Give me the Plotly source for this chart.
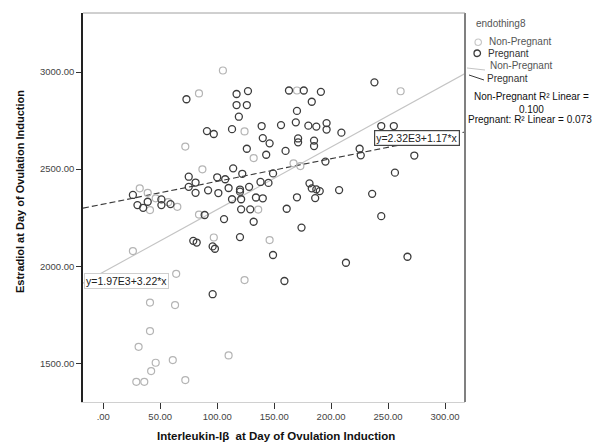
import numpy as np
import plotly.graph_objects as go

# ---------------- data ----------------
preg_x = [73, 117, 127, 117, 126, 119, 163, 176, 170, 183, 91, 97, 113, 139, 156, 169, 180,
          140, 146, 171, 171, 126, 143, 160, 114, 75, 81, 100, 107, 122, 75, 81, 92, 101, 110,
          120, 128, 120, 113, 121, 134, 140, 138, 145, 149, 121, 129, 161, 170, 174, 89, 106,
          132, 79, 82, 96, 98, 120, 149, 159, 96, 26, 30, 35, 39, 51, 51, 59, 191, 238, 187,
          196, 196, 209, 185, 185, 225, 226, 273, 195, 256, 244, 255, 181, 183, 187, 190, 186,
          207, 236, 244, 213, 267]
preg_y = [2860, 2887, 2902, 2830, 2830, 2770, 2905, 2905, 2800, 2847, 2696, 2681, 2706, 2722,
          2727, 2741, 2724, 2660, 2633, 2658, 2638, 2605, 2574, 2594, 2504, 2461, 2431, 2458,
          2448, 2476, 2409, 2378, 2391, 2377, 2403, 2395, 2409, 2384, 2345, 2345, 2354, 2350,
          2434, 2429, 2478, 2293, 2293, 2296, 2355, 2199, 2264, 2243, 2229, 2131, 2122, 2102,
          2090, 2150, 2058, 1924, 1856, 2367, 2315, 2301, 2332, 2344, 2315, 2320, 2898, 2947,
          2719, 2737, 2704, 2688, 2647, 2619, 2605, 2571, 2570, 2539, 2482, 2722, 2722, 2427,
          2401, 2396, 2387, 2351, 2392, 2373, 2258, 2018, 2049]

nonp_x = [105, 84, 72, 170, 124, 132, 87, 167, 173, 261, 136, 84, 97, 146, 26, 124, 64, 41,
          63, 41, 31, 110, 61, 46, 42, 29, 36, 72, 32, 39, 65, 41, 46, 57]
nonp_y = [3008, 2890, 2616, 2905, 2694, 2557, 2499, 2530, 2516, 2901, 2292, 2266, 2148, 2135,
          2078, 1929, 1961, 1813, 1800, 1666, 1585, 1541, 1517, 1503, 1460, 1405, 1405, 1414,
          2401, 2378, 2306, 2289, 2350, 2330]

fit_nonp = (1970.0, 3.22)   # intercept, slope
fit_preg = (2320.0, 1.17)

x_range = [-17.8, 317.5]
y_range = [1301, 3304]
x_ticks = [0, 50, 100, 150, 200, 250, 300]
x_ticklabels = [".00", "50.00", "100.00", "150.00", "200.00", "250.00", "300.00"]
y_ticks = [1500, 2000, 2500, 3000]
y_ticklabels = ["1500.00", "2000.00", "2500.00", "3000.00"]

eq_nonp = "y=1.97E3+3.22*x"
eq_preg = "y=2.32E3+1.17*x"
r2_nonp = "Non-Pregnant R² Linear =<br>0.100"
r2_preg = "Pregnant: R² Linear = 0.073"
legend_title = "endothing8"
group_names = ["Non-Pregnant", "Pregnant"]

# ---------------- layout helpers ----------------
W, H = 598, 443
L, R, T, B = 83, 465, 13, 402


def px(p):
    return (p - L) / (R - L)


def py(p):
    return (B - p) / (B - T)


LIGHT = "#b4b4b4"
DARK = "#3c3c3c"
FONT = "Liberation Sans, Arial, sans-serif"

fig = go.Figure()

xx = np.array(x_range)
fig.add_trace(go.Scatter(x=xx, y=fit_nonp[0] + fit_nonp[1] * xx, mode="lines",
                         line=dict(color="#c4c4c4", width=1.1), hoverinfo="skip"))
fig.add_trace(go.Scatter(x=xx, y=fit_preg[0] + fit_preg[1] * xx, mode="lines",
                         line=dict(color="#3a3a3a", width=1.1, dash="6px,3px"), hoverinfo="skip"))

fig.add_trace(go.Scatter(x=nonp_x, y=nonp_y, mode="markers",
                         marker=dict(symbol="circle-open", size=7, color=LIGHT,
                                     line=dict(width=1.2, color=LIGHT))))
fig.add_trace(go.Scatter(x=preg_x, y=preg_y, mode="markers",
                         marker=dict(symbol="circle-open", size=7, color=DARK,
                                     line=dict(width=1.3, color=DARK))))

fig.update_layout(
    width=W, height=H, showlegend=False,
    margin=dict(l=L, r=W - R, t=T, b=H - B),
    paper_bgcolor="white", plot_bgcolor="white",
    font=dict(family=FONT, color="#222"),
    xaxis=dict(range=x_range, tickvals=x_ticks, ticktext=x_ticklabels,
               showgrid=False, zeroline=False, showline=True, linecolor="#d0d0d0",
               linewidth=1, ticks="outside", ticklen=6, tickcolor="#333",
               tickfont=dict(size=9.5, color="#444")),
    yaxis=dict(range=y_range, tickvals=y_ticks, ticktext=y_ticklabels,
               showgrid=False, zeroline=False, showline=True, linecolor="#222",
               linewidth=1.5, ticks="outside", ticklen=5, tickcolor="#333",
               tickfont=dict(size=9.5, color="#444")),
)

# frame: right and top border
fig.add_shape(type="line", xref="paper", yref="paper", x0=1, x1=1, y0=0, y1=1,
              line=dict(color="#808080", width=2))
fig.add_shape(type="line", xref="paper", yref="paper", x0=0, x1=1, y0=1, y1=1,
              line=dict(color="#a0a0a0", width=1))

# axis titles
fig.add_annotation(text="<b>Interleukin-Iβ  at Day of Ovulation Induction</b>",
                   xref="paper", yref="paper", x=px(276), y=py(436), showarrow=False,
                   font=dict(size=11.5, color="#111"), xanchor="center", yanchor="middle")
fig.add_annotation(text="<b>Estradiol at Day of Ovulation Induction</b>",
                   xref="paper", yref="paper", x=px(20), y=py(192), showarrow=False,
                   textangle=-90, font=dict(size=11, color="#111"),
                   xanchor="center", yanchor="middle")

# equation labels
fig.add_annotation(text=eq_nonp, xref="paper", yref="paper", x=px(84), y=py(281),
                   xanchor="left", yanchor="middle", showarrow=False,
                   font=dict(size=10.5, color="#222"), bgcolor="white",
                   bordercolor="#cfcfcf", borderwidth=1, borderpad=1)
fig.add_annotation(text=eq_preg, xref="paper", yref="paper", x=px(374), y=py(137.5),
                   xanchor="left", yanchor="middle", showarrow=False,
                   font=dict(size=10.5, color="#222"), bgcolor="white",
                   bordercolor="#444", borderwidth=1.2, borderpad=1)

# legend (drawn manually to right of plot)
LF = 10
fig.add_annotation(text=legend_title, xref="paper", yref="paper", x=px(474), y=py(24),
                   xanchor="left", yanchor="middle", showarrow=False,
                   font=dict(size=LF, color="#555"))
fig.add_shape(type="circle", xref="paper", yref="paper",
              x0=px(475), x1=px(481.5), y0=py(45.5), y1=py(39),
              line=dict(color="#c8c8c8", width=1.2))
fig.add_shape(type="circle", xref="paper", yref="paper",
              x0=px(474), x1=px(480.5), y0=py(56.5), y1=py(50),
              line=dict(color=DARK, width=1.3))
fig.add_annotation(text=group_names[0], xref="paper", yref="paper", x=px(487), y=py(42),
                   xanchor="left", yanchor="middle", showarrow=False,
                   font=dict(size=LF, color="#555"))
fig.add_annotation(text=group_names[1], xref="paper", yref="paper", x=px(486), y=py(53.5),
                   xanchor="left", yanchor="middle", showarrow=False,
                   font=dict(size=LF, color="#333"))
fig.add_shape(type="line", xref="paper", yref="paper",
              x0=px(467), x1=px(485), y0=py(68), y1=py(70),
              line=dict(color="#c4c4c4", width=1))
fig.add_shape(type="line", xref="paper", yref="paper",
              x0=px(469), x1=px(484), y0=py(75), y1=py(80),
              line=dict(color="#3a3a3a", width=1))
fig.add_annotation(text=group_names[0], xref="paper", yref="paper", x=px(488), y=py(65.5),
                   xanchor="left", yanchor="middle", showarrow=False,
                   font=dict(size=LF, color="#555"))
fig.add_annotation(text=group_names[1], xref="paper", yref="paper", x=px(485), y=py(78),
                   xanchor="left", yanchor="middle", showarrow=False,
                   font=dict(size=LF, color="#333"))
fig.add_annotation(text=r2_nonp, xref="paper", yref="paper", x=px(531), y=py(102.5),
                   xanchor="center", yanchor="middle", showarrow=False, align="center",
                   font=dict(size=LF, color="#111"))
fig.add_annotation(text=r2_preg, xref="paper", yref="paper", x=px(466), y=py(119),
                   xanchor="left", yanchor="middle", showarrow=False,
                   font=dict(size=LF, color="#111"))

fig.write_html("out.html", config={"displayModeBar": False},
               post_script="document.body.style.margin='0';")
